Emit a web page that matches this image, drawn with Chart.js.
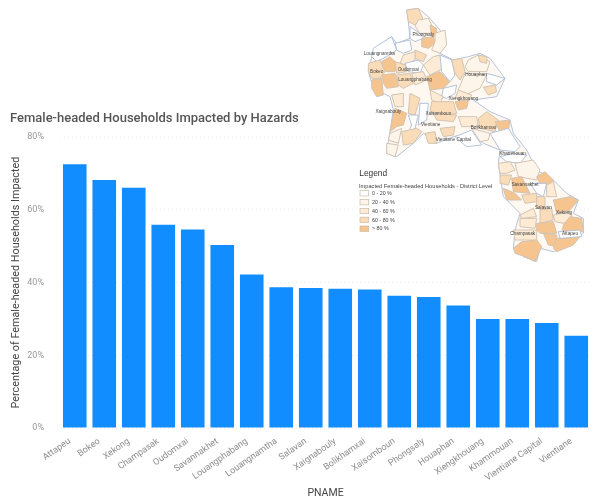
<!DOCTYPE html>
<html>
<head>
<meta charset="utf-8">
<script src="https://cdn.jsdelivr.net/npm/chart.js@4"></script>
<style>
  html, body { margin: 0; padding: 0; background: #fff; overflow: hidden; }
  #wrap { position: relative; width: 603px; height: 504px; filter: blur(0.5px); }
  #wrap canvas { position: absolute; left: 0; top: 0; }
  #map { position: absolute; left: 340px; top: 0; }
</style>
</head>
<body>
<div id="wrap">
  <canvas id="chart" width="603" height="504"></canvas>
  <svg id="map" width="263" height="270" viewBox="0 0 789 810"></svg>
</div>
<script>
const categories = ['Attapeu', 'Bokeo', 'Xekong', 'Champasak', 'Oudomxai', 'Savannakhet', 'Louangphabang',
  'Louangnamtha', 'Salavan', 'Xaignabouly', 'Bolikhamxai', 'Xaisomboun', 'Phongsaly', 'Houaphan',
  'Xiengkhouang', 'Khammouan', 'Vientiane Capital', 'Vientiane'];
const impacted = [72.5, 68.2, 66.1, 55.9, 54.6, 50.3, 42.2, 38.7, 38.5, 38.3, 38.1, 36.4, 36.0, 33.7, 30.0, 30.0, 28.9, 25.4];
const yTicks = [0, 20, 40, 60, 80];

const legendLabels = ['0 - 20 %', '20 - 40 %', '40 - 60 %', '60 - 80 %', '> 80 %'];
const classColors = ['#ffffff', '#fef5ea', '#fdebd6', '#fbdcb8', '#f6c48e'];

// inset map, rough shapes traced by eye
const outline = [200,30,235,25,265,50,300,90,320,130,300,160,340,180,385,170,420,160,450,175,495,235,470,290,400,300,450,335,510,360,
  520,400,560,450,590,510,640,540,680,580,715,600,700,640,730,655,730,700,690,735,640,755,600,745,590,785,550,770,520,745,525,690,
  540,640,490,590,475,490,480,450,430,430,390,400,340,410,290,430,250,400,220,430,170,470,140,460,150,395,160,330,150,290,100,265,
  85,215,100,150,155,110,170,130,210,115,205,65];
// [class, x, y, x, y, ...]
const districts = [
  [3,200,30,235,25,250,60,225,75,205,65], [1,235,60,265,55,280,85,270,100,240,100,225,78], [4,270,75,290,85,290,110,275,110],
  [4,245,115,280,110,285,130,265,145,245,140], [0,210,80,240,100,250,115,225,125,210,115], [1,285,100,315,90,320,135,300,160,275,150,285,125],
  [0,100,145,155,110,170,150,140,170,110,185,95,170], [0,165,130,210,120,215,150,190,160,170,150], [3,225,150,260,165,250,185,225,175],
  [2,190,165,225,155,225,180,195,195,180,190], [4,125,185,150,170,170,190,165,215,135,215], [3,85,190,120,180,135,215,120,235,95,235,85,215],
  [3,165,185,195,195,200,215,170,220], [0,195,190,235,180,250,195,240,220,205,215], [4,95,240,125,235,130,285,110,290,95,265],
  [4,125,225,165,220,175,260,140,265,130,250], [3,170,225,210,220,220,250,190,265,175,255], [2,215,220,250,215,260,240,225,255],
  [2,250,195,280,170,300,165,310,205,270,225], [4,260,230,300,215,330,245,310,265,270,270], [0,300,165,335,180,345,225,330,245,305,215],
  [3,335,180,365,175,375,215,360,240,345,220], [1,385,180,415,165,450,185,440,215,385,215,375,200], [3,415,165,440,170,440,190,420,185],
  [1,375,220,440,225,420,265,375,285,355,270], [0,440,220,495,235,470,255,440,245], [3,430,262,465,255,470,275,445,285],
  [0,310,265,350,255,345,280,320,295,305,290], [2,355,270,395,285,385,305,345,295], [4,345,305,385,300,380,325,355,330],
  [2,270,270,310,290,300,310,275,300], [3,275,305,340,305,350,340,320,345,270,335], [3,280,340,350,345,340,365,290,360],
  [2,155,285,190,280,190,320,165,320], [3,210,280,240,295,225,345,205,340], [4,165,325,200,340,190,375,170,380,150,395,155,370],
  [0,205,345,235,345,225,385,205,400,215,375], [1,150,400,185,385,175,430,145,420], [3,185,395,230,385,245,395,220,430,190,435],
  [1,140,430,175,435,165,470,140,460], [0,240,310,265,310,260,360,235,375], [3,255,400,285,395,290,430,265,430],
  [3,300,385,345,380,340,405,310,410], [2,355,350,410,350,415,380,365,380], [3,415,355,440,335,475,360,465,395,420,385],
  [4,465,365,510,360,505,395,480,395], [1,395,385,450,400,445,420,420,425], [0,345,410,395,390,425,435,380,440],
  [0,450,400,505,385,540,440,525,455,480,450], [0,480,470,520,460,560,465,540,490,500,485], [2,475,490,510,485,525,510,500,520,480,520],
  [1,525,490,580,480,600,510,590,540,535,530], [4,590,530,615,515,640,540,630,555,600,550], [3,480,525,515,525,505,555,480,550],
  [4,515,535,545,530,570,580,520,575], [4,490,565,525,580,545,600,500,600], [3,545,585,590,580,590,605,555,610],
  [0,570,550,620,550,610,590,590,580], [2,620,555,640,545,650,590,620,590], [3,590,590,615,590,615,630,590,625],
  [4,640,600,690,590,715,600,690,630,650,640], [3,600,630,635,625,640,660,600,670], [2,640,645,690,635,700,660,670,670,645,665],
  [4,590,670,640,665,650,700,600,700,590,690], [4,690,650,725,655,730,695,665,700,670,675], [4,610,700,650,705,650,740,625,735],
  [4,650,715,720,710,700,735,650,755,640,745], [0,655,695,720,690,725,710,660,715], [2,540,655,590,655,585,685,540,680],
  [2,520,690,590,690,590,720,525,720], [4,545,725,590,720,605,740,585,785,555,770,525,760,520,745], [2,540,645,580,625,590,650,545,655]
];
// [name, x, y] in the same map units
const mapLabels = [['Phongsaly',250,107], ['Louangnamtha',118,165], ['Bokeo',110,220], ['Oudomxai',205,214], ['Louangphabang',225,242],
  ['Houaphan',408,228], ['Xaignabouly',145,339], ['Xiengkhouang',370,300], ['Xaisomboun',295,344], ['Vientiane',272,378],
  ['Bolikhamxai',430,387], ['Vientiane Capital',340,424], ['Khammouan',518,466], ['Savannakhet',555,557], ['Salavan',610,627],
  ['Xekong',672,642], ['Attapeu',690,705], ['Champasak',548,705]];

const svg = document.getElementById('map');
const NS = 'http://www.w3.org/2000/svg';
function add(tag, attrs, text) {
  const el = document.createElementNS(NS, tag);
  Object.keys(attrs).forEach((k) => el.setAttribute(k, attrs[k]));
  if (text) el.textContent = text;
  svg.appendChild(el);
}
add('polygon', { points: outline.join(' '), fill: '#fef8f0', stroke: '#b4c2da', 'stroke-width': 3, 'stroke-linejoin': 'round' });
districts.forEach((d) => {
  add('polygon', { points: d.slice(1).join(' '), fill: classColors[d[0]], stroke: d[0] === 0 ? '#b4c2da' : '#d2c4b2', 'stroke-width': 3, 'stroke-linejoin': 'round' });
});
mapLabels.forEach((l) => {
  add('text', { x: l[1], y: l[2], 'text-anchor': 'middle', 'font-family': 'Liberation Sans', 'font-size': 14, fill: '#444' }, l[0]);
});
add('text', { x: 58, y: 527, 'font-family': 'Liberation Sans', 'font-size': 25, fill: '#333' }, 'Legend');
add('text', { x: 57, y: 563, 'font-family': 'Liberation Sans', 'font-size': 17, fill: '#444' }, 'Impacted Female-headed Households - District Level');
legendLabels.forEach((t, i) => {
  const y = 572 + i * 26.5;
  add('rect', { x: 60, y: y, width: 26, height: 16, fill: classColors[i], stroke: '#c9b9a6', 'stroke-width': 2 });
  add('text', { x: 96, y: y + 13, 'font-family': 'Liberation Sans', 'font-size': 16, fill: '#444' }, t);
});

new Chart(document.getElementById('chart'), {
  type: 'bar',
  data: {
    labels: categories,
    datasets: [{ data: impacted, backgroundColor: '#118dff', barPercentage: 0.8, categoryPercentage: 1 }]
  },
  options: {
    responsive: false,
    animation: false,
    layout: { padding: { left: 10, right: 12, top: 110, bottom: 0 } },
    plugins: {
      legend: { display: false },
      tooltip: { enabled: false },
      title: {
        display: true,
        text: 'Female-headed Households Impacted by Hazards',
        align: 'start',
        color: '#555',
        font: { family: 'Roboto', size: 13, weight: '500' },
        padding: { top: 1, bottom: 10.5 }
      }
    },
    scales: {
      x: {
        grid: { display: false },
        border: { display: false },
        afterFit: (s) => { s.height = 76; },
        ticks: { color: '#8c8c8c', font: { family: 'Roboto', size: 9 }, minRotation: 35, maxRotation: 35, padding: 0, labelOffset: -5, autoSkip: false },
        title: { display: true, text: 'PNAME', color: '#444', font: { family: 'Roboto', size: 10.5 }, padding: { top: 8 } }
      },
      y: {
        min: 0,
        max: 80,
        afterFit: (s) => { s.width = 50; },
        afterBuildTicks: (s) => { s.ticks = yTicks.map((v) => ({ value: v })); },
        grid: { color: '#ececec', drawTicks: false },
        border: { display: false, dash: [1, 3] },
        ticks: { color: '#999999', font: { family: 'Roboto', size: 9 }, padding: 16, callback: (v) => v + '%' },
        title: { display: true, text: 'Percentage of Female-headed Households Impacted', color: '#444', font: { family: 'Roboto', size: 10.8 }, padding: 0 }
      }
    }
  }
});
</script>
</body>
</html>
